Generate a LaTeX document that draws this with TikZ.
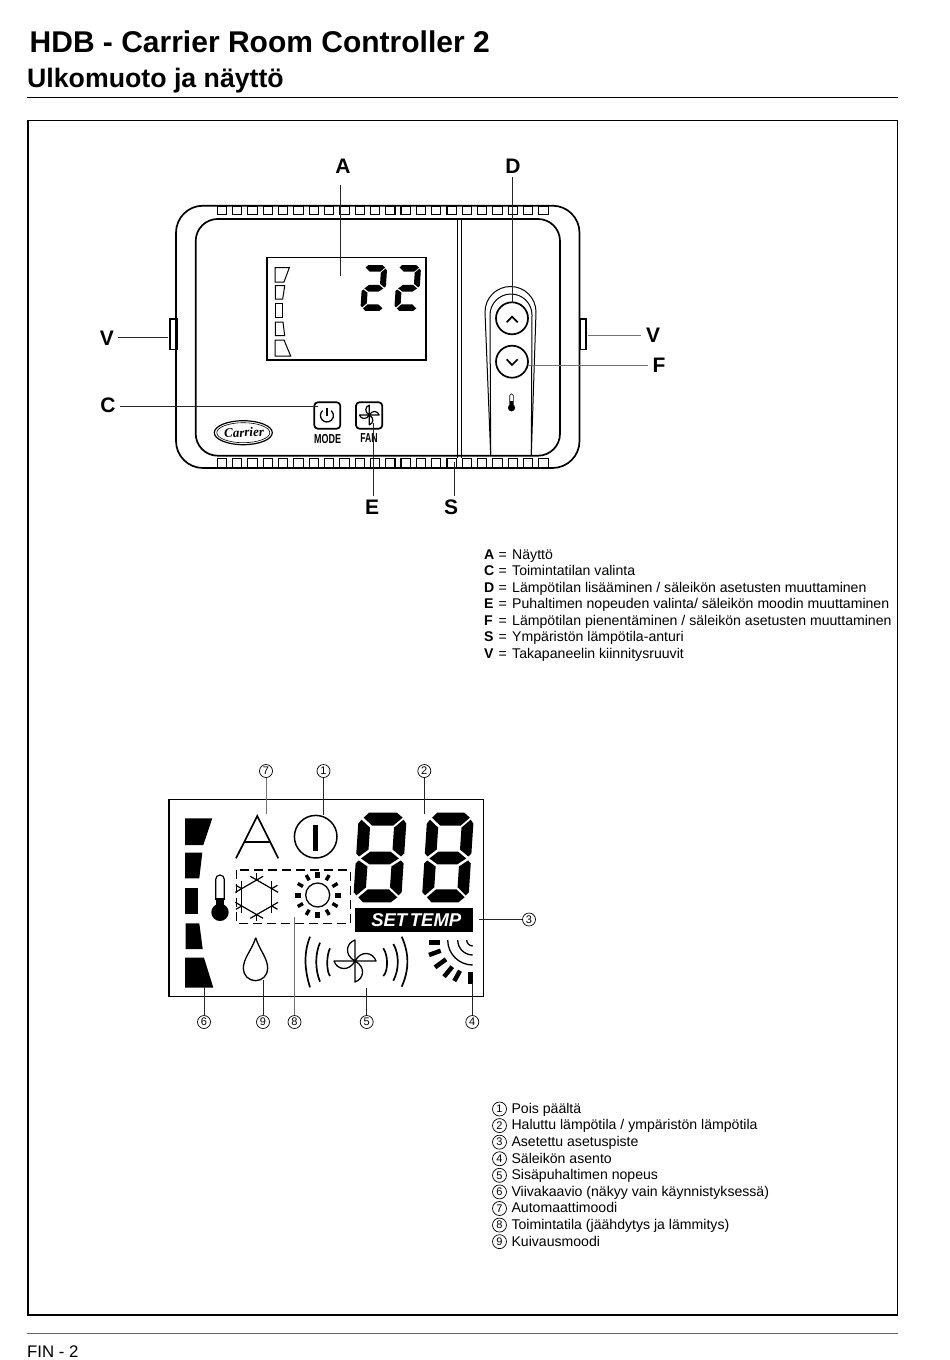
\documentclass[tikz,border=0pt]{standalone}
\usepackage{fontspec}
\usepackage{graphicx}
\setmainfont{Liberation Sans}
\newfontfamily\logofont{Liberation Serif}
\usetikzlibrary{arrows}
\usetikzlibrary{calc}

\tikzset{
  partlbl/.style={font=\fontsize{21}{21}\selectfont\bfseries,inner sep=0pt,outer sep=2pt},
  keytext/.style={font=\fontsize{14.1}{16}\selectfont,inner sep=0pt,anchor=base west},
  numlbl/.style={draw,circle,line width=0.7pt,inner sep=0pt,minimum size=13pt,font=\fontsize{11}{11}\selectfont},
  leader/.style={line width=0.9pt,black!85},
  paleleader/.style={line width=0.9pt,black!55},
  body/.style={line width=1.7pt},
  lcdline/.style={line width=1.4pt}
}

% segments of one display digit, 48 wide and 90 high
\newcommand{\segA}{\fill (5,5)--(10,0)--(38,0)--(44,5)--(35,13)--(14,13)--cycle;}
\newcommand{\segB}{\fill (45,7)--(48,11)--(48,41)--(45,44)--(36,37)--(36,15)--cycle;}
\newcommand{\segC}{\fill (45,48)--(36,54)--(36,75)--(45,83)--(48,80)--(48,51)--cycle;}
\newcommand{\segD}{\fill (5,85)--(14,77)--(35,77)--(44,85)--(38,90)--(10,90)--cycle;}
\newcommand{\segE}{\fill (3,48)--(12,54)--(12,75)--(3,83)--(0,80)--(0,51)--cycle;}
\newcommand{\segF}{\fill (3,7)--(12,15)--(12,37)--(3,44)--(0,41)--(0,11)--cycle;}
\newcommand{\segG}{\fill (5,46)--(14,39)--(34,39)--(43,46)--(34,52)--(14,52)--cycle;}
\newcommand{\segdigit}[5]{\begin{scope}[shift={(#1,#2)},xscale=#3,yscale=#4,xslant=.0667] #5 \end{scope}}

\newcommand{\fanicon}[4]{
  \foreach \a in {0,90,180,270}
    \draw[line width=#4,line join=round,shift={(#1,#2)},rotate=\a,scale=#3]
      (0,0) -- (21,0) .. controls (18,-9) and (6,-11) .. (0,0);
}

\begin{document}
\begin{tikzpicture}[x=1pt,y=-1pt]
\useasboundingbox (0,0) rectangle (950,1360);

% page head and foot
\node[inner sep=0pt,anchor=base west,font=\fontsize{30}{30}\selectfont\bfseries] (title) at (29.5,52) {HDB - Carrier Room Controller 2};
\node[inner sep=0pt,anchor=base west,font=\fontsize{26.7}{27}\selectfont\bfseries] (subtitle) at (27,87.8) {Ulkomuoto ja näyttö};
\draw[line width=1.5pt] (27,97.5) -- (898,97.5);
\draw[line width=1.5pt] (28,120.5) rectangle (897.5,1315);
\draw[line width=0.8pt,black!60] (27,1333.5) -- (898,1333.5);
\node[inner sep=0pt,anchor=base west,font=\fontsize{16.8}{17}\selectfont] (pagenr) at (27,1357) {FIN - 2};

% controller housing
\draw[body,rounded corners=27pt] (176,205.7) rectangle (579.5,468);
\draw[body,rounded corners=22pt] (195.7,219) rectangle (560,455.7);
\foreach \i in {0,...,21} {
  \draw[line width=1.1pt] ({217.3+15.31*\i},206) rectangle +(9.3,8.8);
  \draw[line width=1.1pt] ({217.3+15.31*\i},458.4) rectangle +(9.3,8.8);
}
\draw[line width=1.1pt] (170,319) rectangle (177,349.3);
\draw[line width=1.1pt] (580.7,319) rectangle (586,349.3);
\draw[line width=1.1pt] (457.3,219) -- (457.3,458);
\draw[line width=1.1pt] (461.3,219) -- (461.3,458);

% small display
\draw[lcdline] (267,257.7) rectangle (426,360);
\foreach \xa/\xb/\xc/\ya/\yb in {275/289.3/284/267.7/282, 275.3/284.7/282.7/285.7/299, 275.3/282.3/282.3/303.3/317.3, 275.3/283/284.7/322/335.7, 275/284/290.7/340/356}
  \draw[line width=1pt] (\xa,\ya) -- (\xb,\ya) -- (\xc,\yb) -- (\xa,\yb) -- cycle;
\segdigit{363.3}{265}{.5}{.51}{\segA\segB\segG\segE\segD}
\segdigit{397.2}{265}{.5}{.51}{\segA\segB\segG\segE\segD}

% buttons
\draw[line width=1.7pt,rounded corners=3.5pt] (314.3,402.3) rectangle (340.3,428.7);
\draw[line width=1.3pt] (327,408) -- (327,415.5);
\draw[line width=1.3pt] (322.6,410.6) arc[start angle=228,end angle=-48,radius=6.5];
\node[inner sep=0pt,font=\fontsize{13}{13}\selectfont\bfseries] (modetxt) at (327.6,439) {\scalebox{.69}[1]{MODE}};
\draw[line width=1.7pt,rounded corners=3.5pt] (356,402.3) rectangle (382.3,428.7);
\fanicon{369.3}{415}{.47}{1.2pt}
\node[inner sep=0pt,font=\fontsize{13}{13}\selectfont\bfseries] (fantxt) at (369,438.5) {\scalebox{.67}[1]{FAN}};

\draw[line width=1.2pt] (243.3,432.7) ellipse [x radius=29,y radius=12];
\draw[line width=0.6pt] (243.3,432.7) ellipse [x radius=26.5,y radius=10];
\node[inner sep=0pt,rotate=3,font=\fontsize{13}{13}\logofont\bfseries\itshape] (logo) at (244,432.5) {Carrier};

\draw[line width=1pt] (490.7,455) -- (485,312) arc[start angle=180,end angle=360,radius=25.5] -- (531.3,455);
\draw[line width=1pt] (490.7,455) -- (490,315) arc[start angle=180,end angle=360,radius=21] -- (531.3,455);
\draw[line width=1.7pt,fill=white] (512,318.3) circle [radius=16];
\draw[line width=1.7pt,fill=white] (512,361.7) circle [radius=16];
\draw[line width=1.7pt] (506.7,322.3) -- (512,316.7) -- (517.7,322.3);
\draw[line width=1.7pt] (506.7,359.3) -- (512,365) -- (517.7,359.3);
\draw[line width=0.6pt] (509.7,406) -- (509.7,395.5) arc[start angle=180,end angle=360,radius=1.8] -- (513.3,406);
\fill (510,401) rectangle (513,406);
\fill (511.5,407.8) circle [radius=3.6];

% part labels
\node[partlbl] (lblA) at (343,166) {A};
\node[partlbl] (lblD) at (513,166) {D};
\node[partlbl] (lblVl) at (107,338) {V};
\node[partlbl] (lblVr) at (653,335) {V};
\node[partlbl] (lblF) at (659,365) {F};
\node[partlbl] (lblC) at (108,405.5) {C};
\node[partlbl] (lblE) at (372,507) {E};
\node[partlbl] (lblS) at (451,507) {S};

\coordinate (ptA) at (340.3,276);
\coordinate (ptD) at (512.7,302.7);
\coordinate (ptVl) at (167.5,337.5);
\coordinate (ptVr) at (587.7,335.7);
\coordinate (ptF) at (528.3,365.7);
\coordinate (ptC) at (318.3,406.7);
\coordinate (ptE) at (373.3,423);
\coordinate (ptS) at (454,461.7);

\draw[leader,shorten <=10pt] (lblA.south -| ptA) -- (ptA);
\draw[leader,shorten <=2pt] (lblD.south -| ptD) -- (ptD);
\draw[leader,shorten <=2pt] (lblVl.east |- ptVl) -- (ptVl);
\draw[paleleader,shorten <=3pt] (lblVr.west |- ptVr) -- (ptVr);
\draw[paleleader,shorten <=3pt] (lblF.west |- ptF) -- (ptF);
\draw[leader,shorten <=2pt] (lblC.east |- ptC) -- (ptC);
\draw[leader,shorten <=2pt] (lblE.north -| ptE) -- (ptE);
\draw[leader,shorten <=2pt] (lblS.north -| ptS) -- (ptS);

% key of the parts
\foreach \k/\ktext [count=\i] in {A/Näyttö, C/Toimintatilan valinta, D/{Lämpötilan lisääminen / säleikön asetusten muuttaminen}, E/{Puhaltimen nopeuden valinta/ säleikön moodin muuttaminen}, F/{Lämpötilan pienentäminen / säleikön asetusten muuttaminen}, S/Ympäristön lämpötila-anturi, V/Takapaneelin kiinnitysruuvit} {
  \node[keytext,font=\fontsize{14.1}{16}\selectfont\bfseries] (key\k) at (484,{559+16.57*(\i-1)}) {\k};
  \node[keytext] (eq\k) at (498.3,{559+16.57*(\i-1)}) {=};
  \node[keytext] (txt\k) at (512,{559+16.57*(\i-1)}) {\ktext};
}

% large display
\draw[lcdline] (169,799.7) rectangle (483.7,996.7);
\foreach \xa/\xb/\xc/\ya/\yb in {185/212.3/203.3/818.3/845, 185/202.3/199.3/852.7/878.3, 185/198.3/198.3/887.7/914, 185.7/199.3/202.7/923.3/949, 185/204/213.3/957.7/987.7}
  \fill (\xa,\ya) -- (\xb,\ya) -- (\xc,\yb) -- (\xa,\yb) -- cycle;
\segdigit{359}{812.7}{1}{.995}{\segA\segB\segC\segD\segE\segF\segG}
\segdigit{427.5}{812.7}{.97}{.995}{\segA\segB\segC\segD\segE\segF\segG}
\fill (355,908.3) rectangle (473.3,932.3);
\node[inner sep=0pt,text=white,font=\fontsize{18.5}{18}\selectfont\bfseries\itshape] (settemp) at (416.3,920.3) {SET\hspace{-2.5pt} TEMP};

\draw[line width=1.7pt,line join=miter] (236,858.3) -- (257.3,816) -- (278.3,858.3);
\draw[line width=1.7pt] (244,841.7) -- (270.7,841.7);
\draw[line width=1.5pt] (315.7,836.7) circle [radius=21.3];
\fill (313,825) rectangle (318.3,850.7);

% thermometer
\draw[line width=1.2pt] (215.7,900) -- (215.7,879.3) arc[start angle=180,end angle=360,radius=4.3] -- (224.3,900);
\fill (215.7,898) rectangle (224.3,906);
\fill (220,912.3) circle [radius=8.7];

% cooling and heating
\draw[line width=1.3pt,dash pattern=on 9pt off 5pt] (236.7,870) rectangle (350.7,923.3);
\foreach \a in {0,60,...,300} {
  \draw[line width=1.2pt,shift={(256.7,897.3)},rotate=\a] (15,-16) -- (15,16);
  \draw[line width=1.2pt,shift={(256.7,897.3)},rotate=\a+30] (17,0) -- (24,0);
}
\draw[line width=1.3pt] (317.7,895) circle [radius=12];
\foreach \a in {0,30,...,330} {
  \pgfmathsetmacro\raywd{mod(\a,90)==0?5:3.4}
  \draw[line width=\raywd pt,shift={(317.7,895)},rotate=\a] (17,0) -- (23,0);
}

% drop
\draw[line width=1.3pt] (255.7,937.7) .. controls (252,950) and (243.3,958) .. (243.3,968.5) arc[start angle=180,end angle=0,radius=12.2] .. controls (267.7,958) and (259.4,950) .. (255.7,937.7);

% fan speed
\fanicon{355}{961}{1}{1.3pt}
\foreach \xa/\xb/\ya/\yb/\ym in {310/304/936.7/987.3/960, 320/315/942.7/981.7/961.7, 330/326.3/948.3/976/963.3, 401.7/409.3/936.7/986.7/961.7, 393.3/399.3/944/980.7/961.7, 383.3/388.3/948.3/976/963.3}
  \draw[line width=1.7pt] (\xa,\ya) .. controls (\xb,{\ym-8}) and (\xb,{\ym+8}) .. (\xa,\yb);

% louvre
\foreach \r in {25,15,6}
  \draw[line width=1.3pt] ($(472.7,940)+(180:\r)$) arc[start angle=180,end angle=90,radius=\r];
\foreach \xa/\ya/\xb/\yb in {428.5/942.3/440/942.3, 429/955/440.7/950.7, 435/967.3/446/959.3, 444/976.7/452.3/966.7, 454.3/981/460/970.7, 470.7/972.3/470.7/984}
  \draw[line width=4.5pt] (\xa,\ya) -- (\xb,\yb);

% numbered labels
\node[numlbl] (num7) at (266,771) {7};
\node[numlbl] (num1) at (323.5,771) {1};
\node[numlbl] (num2) at (424.3,771) {2};
\node[numlbl] (num3) at (529,919.5) {3};
\node[numlbl] (num6) at (204,1022) {6};
\node[numlbl] (num9) at (263,1022) {9};
\node[numlbl] (num8) at (294.5,1022) {8};
\node[numlbl] (num5) at (366.7,1022) {5};
\node[numlbl] (num4) at (472.3,1022) {4};

\coordinate (pt7) at (266,814);
\coordinate (pt1) at (323.5,815);
\coordinate (pt2) at (424.3,814);
\coordinate (pt3) at (479.3,919.5);
\coordinate (pt6) at (204,986.7);
\coordinate (pt9) at (263,980);
\coordinate (pt8) at (294.5,916.7);
\coordinate (pt5) at (366.7,987.7);
\coordinate (pt4) at (472.3,983);

\draw[paleleader] (num7) -- (pt7);
\foreach \n in {1,2,3,6,9,5,4}
  \draw[leader] (num\n) -- (pt\n);
\draw[paleleader] (num8) -- (pt8);

% key of the display
\foreach \n/\ntext [count=\i] in {1/Pois päältä, 2/{Haluttu lämpötila / ympäristön lämpötila}, 3/Asetettu asetuspiste, 4/Säleikön asento, 5/Sisäpuhaltimen nopeus, 6/{Viivakaavio (näkyy vain käynnistyksessä)}, 7/Automaattimoodi, 8/{Toimintatila (jäähdytys ja lämmitys)}, 9/Kuivausmoodi} {
  \node[numlbl,minimum size=14pt] (keynum\n) at (499.5,{1109+16.58*(\i-1)}) {\n};
  \node[keytext] (keytxt\n) at (511.3,{1113.4+16.58*(\i-1)}) {\ntext};
}
\end{tikzpicture}
\end{document}
